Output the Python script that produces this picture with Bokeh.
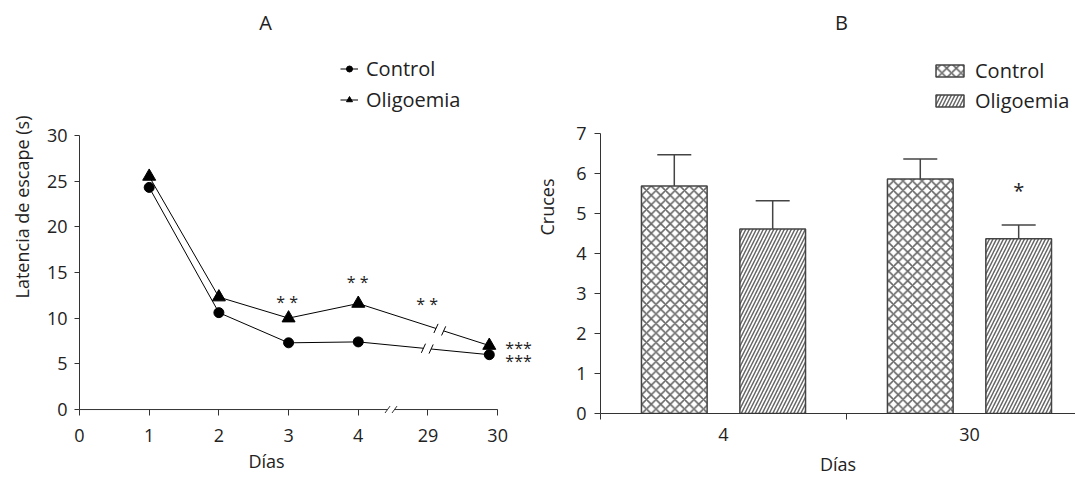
import numpy as np
from bokeh.plotting import figure
from bokeh.layouts import row
from bokeh.models import (Range1d, FixedTicker, Legend, LegendItem, Whisker, TeeHead,
                          ColumnDataSource, Label, Title)
from bokeh.core.properties import value
from bokeh.embed import file_html
from bokeh.resources import INLINE

FONT = "Open Sans"
TXT = "#222222"
AX = "#333333"
BAR = "#444444"

# ---------------- Panel A data ----------------
day_tick_labels = ["0", "1", "2", "3", "4", "29", "30"]
day_positions = [1, 2, 3, 4, 5.88]          # day 30 drawn just before its tick on the broken axis
control_latency = [24.3, 10.6, 7.3, 7.4, 6.0]
oligoemia_latency = [25.5, 12.3, 10.0, 11.6, 7.0]
sig_text_a = ["* *", "* *", "* *", "***", "***"]
sig_x_a = [2.98, 3.99, 4.99, 6.3, 6.3]
sig_y_a = [11.8, 14.0, 11.5, 6.75, 5.3]
break_control, break_oligoemia, break_axis = 4.99, 5.17, 4.47

# ---------------- Panel B data ----------------
groups = ["4", "30"]
control_cruces = [5.69, 5.86]
control_sem = [0.78, 0.50]
oligoemia_cruces = [4.61, 4.37]
oligoemia_sem = [0.71, 0.34]


def style_axes(p):
    p.xgrid.visible = False
    p.ygrid.visible = False
    p.outline_line_color = None
    for ax in (p.xaxis[0], p.yaxis[0]):
        ax.major_label_text_font = FONT
        ax.major_label_text_font_size = "18px"
        ax.major_label_text_color = TXT
        ax.axis_label_text_font = FONT
        ax.axis_label_text_font_size = "18px"
        ax.axis_label_text_font_style = "normal"
        ax.axis_label_text_color = TXT
        ax.axis_line_color = AX
        ax.major_tick_line_color = AX
        ax.minor_tick_line_color = None


def text_label(p, x, y, txt, size="18px"):
    p.add_layout(Label(x=x, y=y, text=txt, text_font=FONT, text_font_size=size,
                       text_color=TXT, text_align="center", text_baseline="middle"))


# ======================= Panel A =======================
pa = figure(width=532, height=478, x_range=Range1d(0, 6.5), y_range=Range1d(-0.433, 44.75),
            output_backend="svg", toolbar_location=None,
            min_border_left=79, min_border_right=0, min_border_top=0, min_border_bottom=61)
style_axes(pa)


def draw_series(p, xs, ys, brk, marker, size):
    xs = np.asarray(xs, float)
    ys = np.asarray(ys, float)
    g = 0.055
    xl, xr = brk - g, brk + g
    yl, yr = np.interp([xl, xr], xs, ys)
    left = xs < brk
    r_line = p.line(list(xs[left]) + [xl], list(ys[left]) + [yl], line_color="black", line_width=1)
    p.line([xr] + list(xs[~left]), [yr] + list(ys[~left]), line_color="black", line_width=1)
    dx, dy = 0.03, 0.5
    p.segment(x0=[xl - dx, xr - dx], y0=[yl - dy, yr - dy], x1=[xl + dx, xr + dx], y1=[yl + dy, yr + dy],
              line_color="black", line_width=1)
    r_pt = p.scatter(xs, ys, marker=marker, size=size, fill_color="black", line_color="black")
    return [r_line, r_pt]


rc = draw_series(pa, day_positions, control_latency, break_control, "circle", 10)
ro = draw_series(pa, day_positions, oligoemia_latency, break_oligoemia, "triangle", 13)

# custom x axis line with break
n_days = len(day_tick_labels) - 1
pa.segment(x0=[0, break_axis + 0.05], y0=[0, 0], x1=[break_axis - 0.05, n_days], y1=[0, 0],
           line_color=AX, line_width=1)
pa.segment(x0=[break_axis - 0.05 - 0.036, break_axis + 0.05 - 0.036], y0=[-0.38, -0.38],
           x1=[break_axis - 0.05 + 0.036, break_axis + 0.05 + 0.036], y1=[0.38, 0.38],
           line_color=AX, line_width=1)

pa.text(x=sig_x_a, y=sig_y_a, text=sig_text_a, text_font=value(FONT), text_font_size="16px",
        text_color=TXT, text_align="center", text_baseline="middle")
text_label(pa, 2.67, 42.36, "A", "20px")

pa.xaxis.ticker = FixedTicker(ticks=list(range(len(day_tick_labels))))
pa.xaxis.major_label_overrides = {i: s for i, s in enumerate(day_tick_labels)}
pa.xaxis.axis_line_color = None
pa.xaxis.major_tick_in = 4
pa.xaxis.major_tick_out = 2
pa.xaxis.major_label_standoff = 13
pa.yaxis.ticker = FixedTicker(ticks=[0, 5, 10, 15, 20, 25, 30])
pa.yaxis.bounds = (0, 30)
pa.yaxis.major_tick_in = 0
pa.yaxis.major_tick_out = 5
pa.yaxis.major_label_standoff = 7
pa.yaxis.axis_label = "Latencia de escape (s)"
pa.yaxis.axis_label_standoff = 10

pa.add_layout(Title(text="Días", align="left", offset=169, standoff=5, text_font=FONT,
                    text_font_size="18px", text_font_style="normal", text_color=TXT), "below")

leg_a = Legend(items=[LegendItem(label="Control", renderers=rc),
                      LegendItem(label="Oligoemia", renderers=ro)],
               location=(261, 300), border_line_color=None, background_fill_alpha=0,
               padding=0, margin=0, spacing=4, glyph_width=18, glyph_height=15,
               label_height=20, label_standoff=8, label_text_font=FONT,
               label_text_font_size="20px", label_text_color=TXT)
pa.add_layout(leg_a)

# ======================= Panel B =======================
pb = figure(width=543, height=478, x_range=Range1d(0, 1.931), y_range=Range1d(0, 10.325),
            output_backend="svg", toolbar_location=None,
            min_border_left=66, min_border_right=0, min_border_top=0, min_border_bottom=65)
style_axes(pb)

idx = np.arange(len(groups))
src_c = ColumnDataSource(dict(x=idx + 0.5 - 0.2, top=control_cruces,
                              upper=np.add(control_cruces, control_sem)))
src_o = ColumnDataSource(dict(x=idx + 0.5 + 0.2, top=oligoemia_cruces,
                              upper=np.add(oligoemia_cruces, oligoemia_sem)))
rb_c = pb.vbar(x="x", top="top", width=0.267, source=src_c, fill_color="white",
               line_color=BAR, line_width=1.5, hatch_pattern="x", hatch_color="#666666",
               hatch_scale=9.5, hatch_weight=1.6)
rb_o = pb.vbar(x="x", top="top", width=0.267, source=src_o, fill_color="white",
               line_color=BAR, line_width=1.5, hatch_pattern="/", hatch_color="#666666",
               hatch_scale=7, hatch_weight=1.5)
for src in (src_c, src_o):
    pb.add_layout(Whisker(source=src, base="x", upper="upper", lower="top",
                          upper_head=TeeHead(size=34, line_color=BAR, line_width=1.5),
                          lower_head=None, line_color=BAR, line_width=1.5))

pb.text(x=[idx[1] + 0.5 + 0.2], y=[oligoemia_cruces[1] + oligoemia_sem[1] + 0.87], text=["*"],
        text_font=value(FONT), text_font_size="20px", text_color=TXT, text_align="center",
        text_baseline="middle")
text_label(pb, 0.98, 9.78, "B", "20px")

pb.xaxis.ticker = FixedTicker(ticks=list(idx + 0.5), minor_ticks=[0, 1, 2])
pb.xaxis.major_label_overrides = {float(i + 0.5): g for i, g in enumerate(groups)}
pb.xaxis.major_tick_line_color = None
pb.xaxis.major_tick_in = 0
pb.xaxis.major_tick_out = 0
pb.xaxis.minor_tick_line_color = AX
pb.xaxis.minor_tick_in = 0
pb.xaxis.minor_tick_out = 6
pb.xaxis.major_label_standoff = 8
pb.xaxis.axis_label = "Días"
pb.xaxis.axis_label_standoff = 8
pb.yaxis.ticker = FixedTicker(ticks=list(range(8)))
pb.yaxis.bounds = (0, 7)
pb.yaxis.major_tick_in = 0
pb.yaxis.major_tick_out = 6
pb.yaxis.major_label_standoff = 8
pb.yaxis.axis_label = "Cruces"
pb.yaxis.axis_label_standoff = 14

leg_b = Legend(items=[LegendItem(label="Control", renderers=[rb_c]),
                      LegendItem(label="Oligoemia", renderers=[rb_o])],
               location=(332, 299), border_line_color=None, background_fill_alpha=0,
               padding=0, margin=0, spacing=3, glyph_width=35, glyph_height=15,
               label_height=20, label_standoff=8, label_text_font=FONT,
               label_text_font_size="20px", label_text_color=TXT)
pb.add_layout(leg_b)

layout = row(pa, pb, spacing=0)
open("out.html", "w").write(file_html(layout, INLINE))
